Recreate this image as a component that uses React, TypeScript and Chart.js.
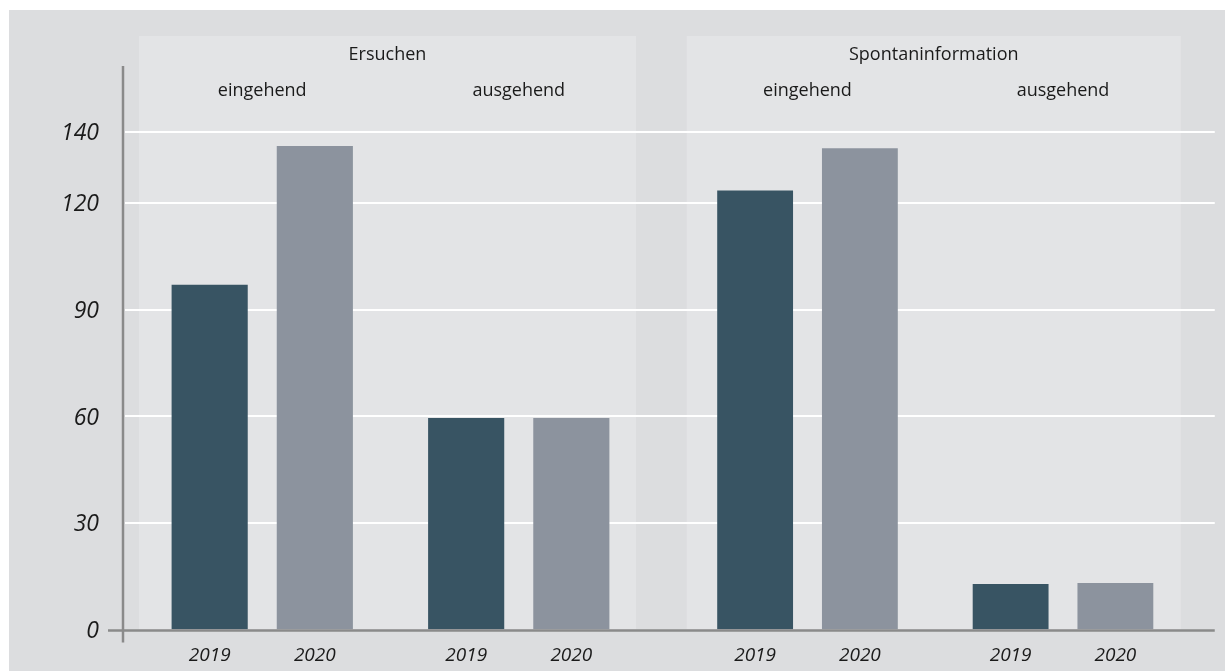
import React, { useEffect, useRef } from 'react';
import { Chart, registerables } from 'chart.js';

Chart.register(...registerables);

// ---- data ----
const groups = ['Ersuchen', 'Spontaninformation'];
const subCategories = ['eingehend', 'ausgehend'];
const years = ['2019', '2020'];
const ersuchen2019 = [97, 59.5];
const ersuchen2020 = [136, 59.5];
const spontan2019 = [123.5, 12.8];
const spontan2020 = [135.4, 13.1];
const yTickValues = [0, 30, 60, 90, 120, 140];
const yTickLabels = ['0', '30', '60', '90', '120', '140'];

const FONT = '"Open Sans", "Noto Sans", sans-serif';
const TEXT = '#1a1a1a';
const C2019 = '#385463';
const C2020 = '#8c939e';
const GROUP_AXES = ['xE', 'xS'];

const decorPlugin = {
  id: 'decor',
  beforeDraw(chart: any) {
    const { ctx, chartArea, scales } = chart;
    const y = scales.y;
    ctx.save();
    ctx.fillStyle = '#ffffff';
    ctx.fillRect(0, 0, chart.width, chart.height);
    ctx.fillStyle = '#dcdddf';
    ctx.fillRect(9, 10, chart.width - 9, chart.height - 10);
    const zeroY = y.getPixelForValue(0);
    const xE = scales.xE;
    const xS = scales.xS;
    const panels = [
      [xE.left + 5, xE.right - 11],
      [xS.left + 7, xS.right - 10],
    ];
    ctx.fillStyle = '#e3e4e6';
    panels.forEach(([a, b]) => ctx.fillRect(a, 36, b - a, zeroY - 36));
    // gridlines
    ctx.strokeStyle = '#ffffff';
    ctx.lineWidth = 2;
    yTickValues
      .filter((v) => v > 0)
      .forEach((v) => {
        const py = Math.round(y.getPixelForValue(v));
        ctx.beginPath();
        ctx.moveTo(chartArea.left - 9, py);
        ctx.lineTo(chartArea.right + 24, py);
        ctx.stroke();
      });
    // headers
    ctx.fillStyle = TEXT;
    ctx.textAlign = 'center';
    ctx.textBaseline = 'alphabetic';
    ctx.font = `18px ${FONT}`;
    groups.forEach((g, i) => ctx.fillText(g, (panels[i][0] + panels[i][1]) / 2, 60));
    GROUP_AXES.forEach((id) => {
      subCategories.forEach((c, i) => ctx.fillText(c, scales[id].getPixelForValue(i), 96));
    });
    ctx.restore();
  },
  afterDatasetsDraw(chart: any) {
    const { ctx, chartArea, scales } = chart;
    const y = scales.y;
    const zeroY = y.getPixelForValue(0);
    const axisX = chartArea.left - 11;
    ctx.save();
    ctx.strokeStyle = '#8a8a8a';
    ctx.lineWidth = 2.5;
    ctx.beginPath();
    ctx.moveTo(axisX, chartArea.top);
    ctx.lineTo(axisX, zeroY + 13);
    ctx.stroke();
    ctx.beginPath();
    ctx.moveTo(axisX - 15, zeroY + 1);
    ctx.lineTo(chartArea.right + 24, zeroY + 1);
    ctx.stroke();
    // year labels under each bar
    ctx.fillStyle = TEXT;
    ctx.textAlign = 'center';
    ctx.textBaseline = 'alphabetic';
    ctx.font = `italic 19px ${FONT}`;
    chart.data.datasets.forEach((ds: any, i: number) => {
      const meta = chart.getDatasetMeta(i);
      meta.data.forEach((bar: any) => ctx.fillText(ds.label, bar.x, 661));
    });
    ctx.restore();
  },
};

const barStyle = {
  indexAxis: 'x',
  yAxisID: 'y',
  categoryPercentage: 0.82,
  barPercentage: 0.724,
};

export default function App() {
  const ref = useRef<HTMLCanvasElement>(null);
  useEffect(() => {
    const catAxis = (weight: number) => ({
      type: 'category',
      axis: 'x',
      labels: subCategories,
      display: false,
      offset: true,
      stacked: true,
      position: 'bottom',
      stack: 'groups',
      stackWeight: weight,
    });
    const chart = new Chart(ref.current as HTMLCanvasElement, {
      type: 'bar',
      data: {
        labels: subCategories,
        datasets: [
          { label: years[0], stack: years[0], data: ersuchen2019, backgroundColor: C2019, xAxisID: 'xE', ...barStyle },
          { label: years[1], stack: years[1], data: ersuchen2020, backgroundColor: C2020, xAxisID: 'xE', ...barStyle },
          { label: years[0], stack: years[0], data: spontan2019, backgroundColor: C2019, xAxisID: 'xS', ...barStyle },
          { label: years[1], stack: years[1], data: spontan2020, backgroundColor: C2020, xAxisID: 'xS', ...barStyle },
        ],
      },
      options: {
        // chart-level index axis 'y' keeps Chart.js from treating the two panel
        // axes as parallel groups; each dataset is still a vertical (x-indexed) bar
        indexAxis: 'y',
        responsive: false,
        animation: false,
        devicePixelRatio: 1,
        layout: { padding: { left: 0, top: 66, right: 34.25, bottom: 41.5 } },
        plugins: { legend: { display: false }, tooltip: { enabled: false } },
        scales: {
          xE: catAxis(513),
          xGap: { ...catAxis(32.75), labels: [''] },
          xS: catAxis(511),
          y: {
            type: 'linear',
            axis: 'y',
            position: 'left',
            offset: false,
            stacked: false,
            min: 0,
            max: 158.5,
            afterBuildTicks: (scale: any) => {
              scale.ticks = yTickValues.map((v) => ({ value: v }));
            },
            afterFit: (scale: any) => {
              scale.width = 134;
            },
            grid: { display: false, offset: false },
            border: { display: false },
            ticks: {
              padding: 27,
              labelOffset: 2,
              color: TEXT,
              font: { family: FONT, size: 23, style: 'italic' },
              callback: (value: any) => {
                const i = yTickValues.indexOf(Number(value));
                return i >= 0 ? yTickLabels[i] : '';
              },
            },
          },
        },
      },
      plugins: [decorPlugin],
    } as any);
    return () => chart.destroy();
  }, []);
  return (
    <div style={{ position: 'fixed', left: 0, top: 0, width: 1225, height: 671 }}>
      <canvas ref={ref} width={1225} height={671} style={{ display: 'block' }} />
    </div>
  );
}
